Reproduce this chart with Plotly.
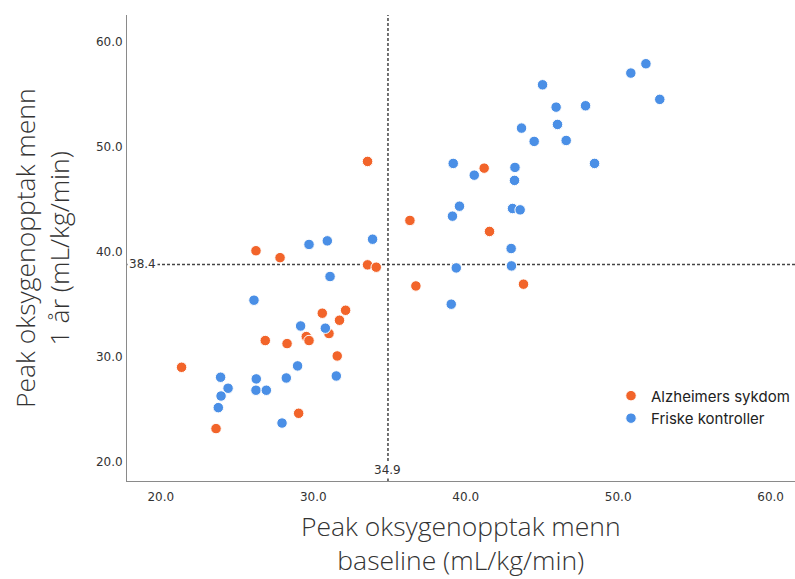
import plotly.graph_objects as go

# ---- data ----
series_names = ["Alzheimers sykdom", "Friske kontroller"]

ad_baseline = [33.56, 36.34, 26.24, 27.82, 33.56, 34.13, 36.73, 30.59, 32.12, 31.72,
               31.03, 29.54, 29.72, 26.85, 28.28, 31.57, 21.36, 29.04, 23.62, 41.21,
               41.56, 43.79]
ad_year1 = [48.23, 42.60, 39.71, 39.05, 38.36, 38.14, 36.35, 33.75, 34.03, 33.08,
            31.81, 31.52, 31.14, 31.14, 30.85, 29.67, 28.59, 24.20, 22.74, 47.59,
            41.55, 36.52]

hc_baseline = [51.82, 50.83, 52.73, 45.04, 45.93, 47.86, 46.02, 43.66, 44.49, 46.59,
               39.18, 43.23, 40.56, 43.20, 48.45, 39.59, 39.13, 43.07, 43.57, 42.98,
               39.38, 43.00, 39.05, 33.89, 30.92, 29.72, 31.10, 26.11, 29.17, 30.79,
               28.97, 31.51, 23.92, 26.26, 28.23, 24.41, 26.24, 26.92, 23.95, 23.77,
               27.95]
hc_year1 = [57.55, 56.66, 54.15, 55.54, 53.41, 53.54, 51.76, 51.41, 50.14, 50.23,
            48.04, 47.66, 46.92, 46.42, 48.04, 43.96, 43.01, 43.74, 43.61, 39.92,
            38.07, 38.26, 34.61, 40.81, 40.65, 40.31, 37.25, 34.99, 32.53, 32.32,
            28.72, 27.76, 27.64, 27.48, 27.57, 26.59, 26.40, 26.40, 25.85, 24.74,
            23.27]

mean_baseline = 34.9
mean_year1 = 38.4

tick_vals = [20, 30, 40, 50, 60]
tick_text = ["20.0", "30.0", "40.0", "50.0", "60.0"]

x_title = "Peak oksygenopptak menn<br>baseline (mL/kg/min)"
y_title = "Peak oksygenopptak menn<br>1 år (mL/kg/min)"

colors = ["#F2642A", "#4A8FE6"]

fig = go.Figure()
for name, xs, ys, c in [(series_names[0], ad_baseline, ad_year1, colors[0]),
                        (series_names[1], hc_baseline, hc_year1, colors[1])]:
    fig.add_trace(go.Scatter(
        x=xs, y=ys, mode="markers", name=name,
        marker=dict(size=10.5, color=c, line=dict(color="white", width=1)),
    ))

dash_line = dict(color="#444444", width=1.5, dash="3px,2px")
fig.add_hline(y=mean_year1, line=dash_line, layer="below")
fig.add_vline(x=mean_baseline, line=dash_line, layer="below")

tick_font = dict(family="DejaVu Sans", size=12, color="#333")
fig.add_annotation(x=0, xref="x domain", y=mean_year1, yref="y",
                   text=f"{mean_year1:.1f}", showarrow=False, xanchor="left",
                   xshift=0, bgcolor="white", font=tick_font)
fig.add_annotation(x=mean_baseline, xref="x", y=0, yref="y domain",
                   text=f"{mean_baseline:.1f}", showarrow=False, yanchor="bottom",
                   yshift=2, bgcolor="white", font=tick_font)

title_font = dict(family="Open Sans, Lato", size=26.5, color="#333", weight=300)

# axis titles (placed as annotations for exact positioning)
fig.add_annotation(x=0.5, xref="paper", y=0, yref="paper", text=x_title,
                   showarrow=False, xanchor="center", yanchor="middle",
                   yshift=-62, font=title_font)
fig.add_annotation(x=0, xref="paper", y=0.5, yref="paper", text=y_title,
                   showarrow=False, textangle=-90, xanchor="center",
                   yanchor="middle", xshift=-85, font=title_font)

axis_common = dict(
    showgrid=False, zeroline=False, showline=True, linecolor="#8a8a8a",
    linewidth=1, ticks="", tickvals=tick_vals, ticktext=tick_text,
    tickfont=tick_font,
)

fig.update_layout(
    width=795, height=579,
    margin=dict(l=127, r=0, t=15, b=98),
    paper_bgcolor="white", plot_bgcolor="white",
    showlegend=True,
    legend=dict(x=1, y=0.218, xanchor="right", yanchor="top",
                font=dict(family="Inter, Roboto", size=15, color="#222"),
                bgcolor="rgba(0,0,0,0)", itemwidth=30),
    xaxis=dict(range=[17.78, 61.6], ticklabelstandoff=5, **axis_common),
    yaxis=dict(range=[17.74, 62.2], ticklabelstandoff=1, ticklabelshift=4,
               **axis_common),
)

fig.write_html("out.html")
